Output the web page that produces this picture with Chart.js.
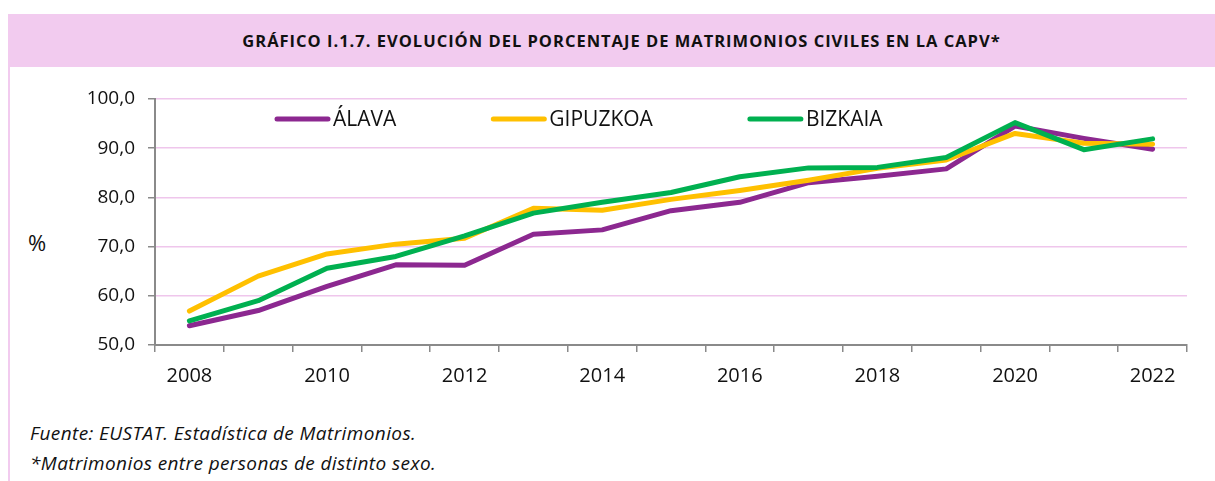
<!DOCTYPE html>
<html lang="es">
<head>
<meta charset="utf-8">
<title>Matrimonios civiles CAPV</title>
<script src="https://cdn.jsdelivr.net/npm/chart.js@4.4.1/dist/chart.umd.min.js"></script>
<style>
	html, body { margin: 0; padding: 0; background: #fff; }
	body { position: relative; width: 1215px; height: 481px; overflow: hidden; font-family: 'Open Sans', sans-serif; color: #111; }
	.band { position: absolute; left: 8px; top: 14px; right: 0; height: 53px; background: #f2cbef; }
	.band h1 { margin: 0; padding-left: 20px; line-height: 53px; text-align: center; font-size: 16.5px; letter-spacing: 1px; font-weight: 700; white-space: nowrap; }
	.edge { position: absolute; left: 8px; top: 67px; width: 2px; bottom: 0; background: #f2cbef; }
	.unit { position: absolute; left: 28px; top: 227px; font-size: 22px; }
	.plot { position: absolute; left: 0; top: 70px; width: 1215px; height: 330px; }
	.notes { position: absolute; left: 30px; top: 418px; font-style: italic; font-size: 19px; letter-spacing: 0.4px; line-height: 30px; }
</style>
</head>
<body>
<div class="band"><h1>GRÁFICO I.1.7. EVOLUCIÓN DEL PORCENTAJE DE MATRIMONIOS CIVILES EN LA CAPV*</h1></div>
<div class="edge"></div>
<div class="unit">%</div>
<div class="plot"><canvas id="chart" width="1215" height="330"></canvas></div>
<div class="notes">
	<div>Fuente: EUSTAT. Estadística de Matrimonios.</div>
	<div>*Matrimonios entre personas de distinto sexo.</div>
</div>
<script>
// Porcentaje de matrimonios civiles sobre el total, por territorio histórico.
const YEARS = ['2008', '2009', '2010', '2011', '2012', '2013', '2014', '2015',
	'2016', '2017', '2018', '2019', '2020', '2021', '2022'];
const ALAVA = [53.9, 57.0, 61.9, 66.3, 66.2, 72.5, 73.4, 77.3, 79.0, 83.0, 84.3, 85.8, 94.5, 92.0, 89.8];
const GIPUZKOA = [56.9, 64.0, 68.5, 70.5, 71.7, 77.8, 77.4, 79.6, 81.4, 83.5, 85.9, 87.6, 93.0, 91.0, 90.8];
const BIZKAIA = [54.9, 59.0, 65.6, 68.0, 72.2, 76.8, 79.0, 81.0, 84.2, 86.0, 86.1, 88.1, 95.2, 89.7, 91.9];
const SERIES_NAMES = ['ÁLAVA', 'GIPUZKOA', 'BIZKAIA'];
const SERIES_COLORS = ['#8c2890', '#ffc000', '#00b050'];
const Y_MIN = 50;
const Y_MAX = 100;
const Y_STEP = 10;

const AXIS_GRAY = '#8a8a8a';
const GRID_PINK = '#efc6ec';
const INK = '#111';

// Excel-style legend sitting inside the plot, one short thick line per series.
const insideLegend = {
	id: 'insideLegend',
	afterDatasetsDraw(chart) {
		const ctx = chart.ctx;
		const area = chart.chartArea;
		const y = area.top + 20;
		let x = area.left + 120;
		ctx.save();
		ctx.font = '21px "Open Sans", sans-serif';
		ctx.textBaseline = 'middle';
		ctx.textAlign = 'left';
		chart.data.datasets.forEach((ds) => {
			ctx.strokeStyle = ds.borderColor;
			ctx.lineWidth = 5;
			ctx.lineCap = 'round';
			ctx.beginPath();
			ctx.moveTo(x + 2, y);
			ctx.lineTo(x + 53, y);
			ctx.stroke();
			ctx.fillStyle = INK;
			ctx.fillText(ds.label, x + 58, y + 1);
			x += 58 + ctx.measureText(ds.label).width + 95;
		});
		ctx.restore();
	},
};

const seriesValues = [ALAVA, GIPUZKOA, BIZKAIA];
const datasets = SERIES_NAMES.map((name, i) => ({
	label: name,
	data: seriesValues[i],
	borderColor: SERIES_COLORS[i],
	backgroundColor: SERIES_COLORS[i],
	borderWidth: 5,
	borderCapStyle: 'round',
	borderJoinStyle: 'round',
	pointRadius: 0,
	tension: 0,
	// later series sit on top, as in the original
	order: SERIES_NAMES.length - i,
}));

new Chart(document.getElementById('chart'), {
	type: 'line',
	data: { labels: YEARS, datasets },
	plugins: [insideLegend],
	options: {
		responsive: false,
		animation: false,
		devicePixelRatio: 1,
		layout: { padding: { top: 29, right: 28, left: 0, bottom: 0 } },
		plugins: {
			legend: { display: false },
			tooltip: { enabled: false },
		},
		scales: {
			x: {
				offset: true,
				grid: {
					offset: true,
					drawOnChartArea: false,
					drawTicks: true,
					tickLength: 7,
					tickColor: AXIS_GRAY,
					lineWidth: 1.5,
				},
				border: { color: AXIS_GRAY, width: 2 },
				ticks: {
					autoSkip: false,
					maxRotation: 0,
					padding: 12,
					color: INK,
					font: { family: '"Open Sans", sans-serif', size: 20 },
					callback: (value, index) => (index % 2 === 0 ? YEARS[index] : ''),
				},
				afterFit: (scale) => { scale.height = 55; },
			},
			y: {
				min: Y_MIN,
				max: Y_MAX,
				grid: {
					color: (c) => (c.tick && c.tick.value === Y_MIN ? 'rgba(0,0,0,0)' : GRID_PINK),
					lineWidth: 1.5,
					drawTicks: true,
					tickLength: 7,
					tickColor: AXIS_GRAY,
				},
				border: { color: AXIS_GRAY, width: 2 },
				ticks: {
					stepSize: Y_STEP,
					padding: 13,
					color: INK,
					font: { family: '"Open Sans", sans-serif', size: 19 },
					callback: (v) => v.toFixed(1).replace('.', ','),
				},
				afterFit: (scale) => { scale.width = 155; },
			},
		},
	},
});
</script>
</body>
</html>
